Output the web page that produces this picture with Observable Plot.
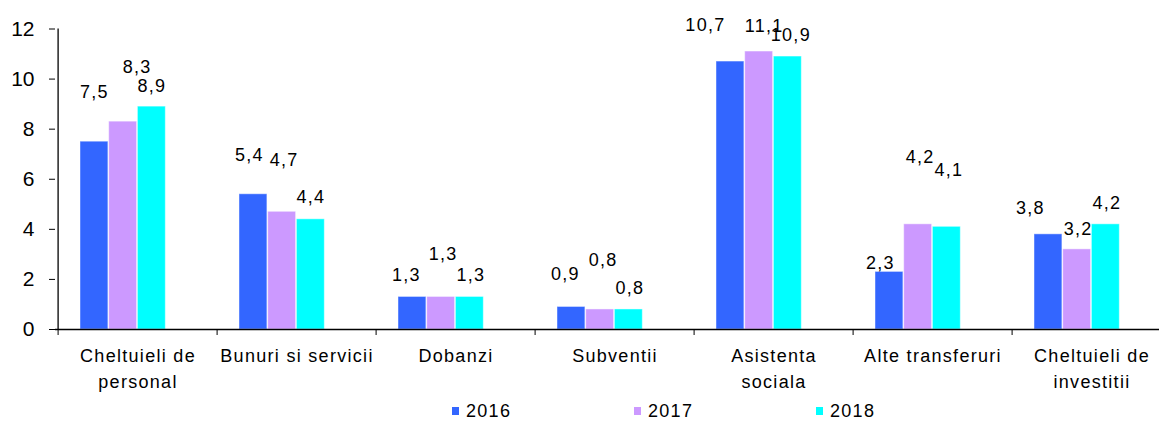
<!DOCTYPE html>
<html><head><meta charset="utf-8">
<script src="https://cdn.jsdelivr.net/npm/d3@7"></script>
<script src="https://cdn.jsdelivr.net/npm/@observablehq/plot@0.6"></script>
<style>
html,body{margin:0;padding:0;background:#fff;overflow:hidden;}
#wrap{position:relative;width:1159px;height:421px;overflow:hidden;}
#chart svg text{letter-spacing:1.3px;}
#chart g[aria-label="y-axis tick label"] text{letter-spacing:0;}
.legend{position:absolute;left:452px;top:402px;display:flex;font:18px "Liberation Sans",Arial,sans-serif;line-height:18px;letter-spacing:1.3px;color:#000;}
.item{width:182px;display:flex;align-items:center;}
.sw{width:7px;height:8px;margin-right:7px;flex:none;}
</style></head><body>
<div id="wrap"><div id="chart"></div><div class="legend" id="legend"></div></div>
<script>
// ---- data ----
const categories = ["Cheltuieli de\npersonal", "Bunuri si servicii", "Dobanzi", "Subventii", "Asistenta\nsociala", "Alte transferuri", "Cheltuieli de\ninvestitii"];
const years = ["2016", "2017", "2018"];
const values2016 = [7.5, 5.4, 1.3, 0.9, 10.7, 2.3, 3.8];
const values2017 = [8.3, 4.7, 1.3, 0.8, 11.1, 4.2, 3.2];
const values2018 = [8.9, 4.4, 1.3, 0.8, 10.9, 4.1, 4.2];
const yTicks = [0, 2, 4, 6, 8, 10, 12];

// ---- style / layout ----
const colors = ["#3366FF", "#CC99FF", "#00FFFF"];
const plotLeft = 55, bandW = 159.8, groupOff = 22, barW = 28.7;
// manual label nudges in px (as placed in the original): lift above bar top, horizontal shift
const labelLift = [[49, 39, 22, 33, 36, 9, 26], [54, 52, 43, 49, 25, 67, 20], [20, 22, 22, 21, 21, 57, 21]];
const labelShift = [[0, -4, -6, -6, -25, -9, -18], [14, 2, 2, 3, 5, 2, 1], [0, 0, 1, 1, 3, 2, 1]];

const seriesValues = [values2016, values2017, values2018];
const table = [];
years.forEach((yr, s) => categories.forEach((cat, i) => table.push({cat, year: yr, value: seriesValues[s][i], s, i})));
const fmt = v => v.toFixed(1).replace(".", ",");

const marks = [];
years.forEach((yr, s) => {
  const data = table.filter(d => d.s === s);
  const left = groupOff + s * barW;
  marks.push(Plot.barY(data, {
    x: "cat", y: "value", fill: "year",
    insetLeft: left, insetRight: bandW - left - barW,
    stroke: "#fff", strokeOpacity: 0.45, strokeWidth: 1
  }));
  data.forEach(d => {
    marks.push(Plot.text([d], {
      x: "cat", y: "value", text: d => fmt(d.value),
      dx: left + barW / 2 - bandW / 2 + labelShift[s][d.i],
      dy: -labelLift[s][d.i],
      lineAnchor: "middle", fontSize: 18, fill: "#000"
    }));
  });
});

marks.push(Plot.ruleY([0], {stroke: "#000", strokeWidth: 1.3}));
marks.push(Plot.ruleX([categories[0]], {dx: -bandW / 2, y1: 0, y2: 12, stroke: "#000", strokeWidth: 1.3}));
marks.push(Plot.axisY({ticks: yTicks, tickSize: 6, tickPadding: 15, fontSize: 21, label: null, tickFormat: d => String(d)}));
marks.push(Plot.axisX({tickSize: 6, dx: -bandW / 2, tickFormat: () => "", label: null}));
marks.push(Plot.axisX({tickSize: 0, tickPadding: 14, fontSize: 18, lineHeight: 1.44, label: null}));

const chart = Plot.plot({
  width: 1159, height: 400,
  marginLeft: plotLeft, marginRight: 0, marginTop: 28.5, marginBottom: 71,
  x: {domain: categories, range: [plotLeft, plotLeft + categories.length * bandW], padding: 0},
  y: {domain: [0, 12]},
  color: {domain: years, range: colors},
  style: {fontFamily: '"Liberation Sans", Arial, sans-serif', fontSize: "18px", color: "#000", background: "#fff"},
  marks
});
document.getElementById("chart").appendChild(chart);

const legend = document.getElementById("legend");
years.forEach((yr, s) => {
  const item = document.createElement("div");
  item.className = "item";
  const sw = document.createElement("div");
  sw.className = "sw";
  sw.style.background = colors[s];
  const t = document.createElement("span");
  t.textContent = yr;
  item.appendChild(sw); item.appendChild(t);
  legend.appendChild(item);
});
</script>
</body></html>
